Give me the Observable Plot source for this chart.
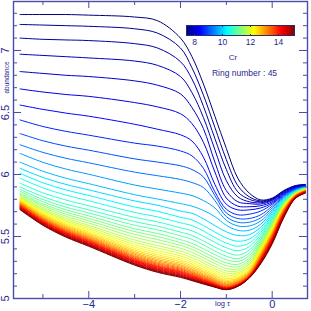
<!DOCTYPE html>
<html><head><meta charset="utf-8">
<script src="https://cdn.jsdelivr.net/npm/d3@7"></script>
<script src="https://cdn.jsdelivr.net/npm/@observablehq/plot@0.6"></script>
<style>
body{margin:0;background:#fff;}
#wrap{position:relative;width:311px;height:311px;font-family:"Liberation Sans",Arial,sans-serif;overflow:hidden;}
.note{position:absolute;color:#28288c;white-space:nowrap;line-height:1;transform:translate(-50%,-50%);}
#cbar{position:absolute;left:186px;top:25px;line-height:0;}
#cbar .tick line{stroke-dasharray:2 7;}
#cbox{position:absolute;left:186px;top:25px;width:109px;height:11px;box-sizing:border-box;border:1px solid #2a2a70;}
</style></head><body><div id="wrap"></div>
<script>
// optical depth grid (log tau)
const tau = [-5.5, -5, -4.5, -4, -3, -2.5, -2, -1.75, -1.5, -1.25, -1, -0.75, -0.5, -0.25, 0, 0.25, 0.5, 0.72];
// colour value (Cr) of each ring
const ringCr = [7.40, 7.56, 7.71, 7.87, 8.02, 8.18, 8.41, 8.65, 8.96, 9.27, 9.58, 9.82, 10.05, 10.29, 10.52, 10.68, 10.83, 10.99, 11.14, 11.30, 11.46, 11.61, 11.77, 11.92, 12.08, 12.24, 12.39, 12.55, 12.70, 12.86, 13.02, 13.17, 13.33, 13.48, 13.64, 13.80, 13.95, 14.11, 14.26, 14.42, 14.58, 14.73, 14.89, 15.04, 15.20];
// abundance of each ring at the tau grid
const abundance = [
[7.29,7.29,7.29,7.285,7.27,7.24,7.10,6.95,6.73,6.47,6.21,5.97,5.85,5.795,5.81,5.87,5.91,5.92],
[7.21,7.205,7.20,7.195,7.175,7.14,7.02,6.86,6.64,6.38,6.12,5.91,5.82,5.787,5.805,5.866,5.907,5.918],
[7.10,7.09,7.085,7.08,7.055,7.02,6.91,6.77,6.55,6.29,6.04,5.86,5.80,5.78,5.80,5.862,5.904,5.916],
[6.97,6.96,6.95,6.94,6.915,6.88,6.79,6.66,6.46,6.20,5.95,5.82,5.78,5.772,5.795,5.857,5.90,5.914],
[6.83,6.815,6.80,6.79,6.755,6.72,6.65,6.54,6.37,6.10,5.87,5.78,5.765,5.762,5.79,5.852,5.897,5.912],
[6.69,6.665,6.645,6.63,6.58,6.545,6.49,6.41,6.26,6.02,5.81,5.745,5.74,5.748,5.78,5.846,5.893,5.91],
[6.56,6.525,6.495,6.47,6.405,6.365,6.32,6.27,6.14,5.92,5.76,5.715,5.715,5.73,5.77,5.84,5.889,5.908],
[6.44,6.387,6.348,6.317,6.253,6.229,6.19,6.15,6.05,5.86,5.72,5.675,5.68,5.705,5.76,5.834,5.885,5.906],
[6.33,6.272,6.229,6.196,6.126,6.10,6.07,6.04,5.98,5.83,5.69,5.645,5.645,5.675,5.745,5.828,5.881,5.904],
[6.24,6.178,6.131,6.094,6.019,5.99,5.96,5.935,5.895,5.79,5.66,5.615,5.615,5.65,5.73,5.821,5.877,5.902],
[6.17,6.098,6.044,6.002,5.915,5.882,5.85,5.83,5.79,5.73,5.63,5.585,5.585,5.625,5.715,5.814,5.873,5.90],
[6.10,6.026,5.97,5.926,5.837,5.802,5.765,5.745,5.71,5.66,5.59,5.55,5.55,5.60,5.70,5.806,5.869,5.898],
[6.05,5.976,5.920,5.876,5.787,5.752,5.705,5.687,5.643,5.588,5.538,5.508,5.515,5.575,5.685,5.798,5.864,5.896],
[6.01,5.933,5.876,5.831,5.738,5.703,5.655,5.634,5.589,5.536,5.488,5.462,5.479,5.553,5.672,5.793,5.862,5.895],
[5.97,5.892,5.834,5.788,5.694,5.658,5.61,5.588,5.544,5.492,5.447,5.421,5.447,5.533,5.66,5.789,5.86,5.893],
[5.93,5.852,5.794,5.748,5.654,5.618,5.57,5.546,5.502,5.453,5.409,5.385,5.418,5.515,5.649,5.784,5.858,5.892],
[5.90,5.821,5.761,5.715,5.62,5.583,5.535,5.509,5.464,5.415,5.372,5.35,5.39,5.497,5.638,5.78,5.857,5.89],
[5.88,5.798,5.737,5.69,5.591,5.554,5.505,5.477,5.432,5.383,5.341,5.321,5.366,5.482,5.627,5.775,5.855,5.889],
[5.865,5.78,5.716,5.666,5.563,5.524,5.475,5.445,5.401,5.354,5.313,5.298,5.346,5.467,5.617,5.77,5.853,5.887],
[5.85,5.762,5.697,5.646,5.54,5.50,5.45,5.419,5.374,5.327,5.287,5.275,5.326,5.454,5.608,5.766,5.851,5.886],
[5.84,5.749,5.68,5.627,5.517,5.475,5.428,5.396,5.351,5.304,5.265,5.256,5.31,5.442,5.599,5.761,5.849,5.885],
[5.83,5.735,5.664,5.609,5.494,5.451,5.405,5.372,5.328,5.282,5.243,5.238,5.294,5.43,5.59,5.756,5.847,5.883],
[5.82,5.722,5.648,5.59,5.472,5.426,5.382,5.349,5.305,5.26,5.222,5.222,5.279,5.419,5.582,5.752,5.846,5.882],
[5.813,5.711,5.635,5.576,5.453,5.407,5.363,5.329,5.286,5.242,5.204,5.208,5.267,5.409,5.574,5.747,5.844,5.88],
[5.806,5.701,5.623,5.562,5.435,5.387,5.344,5.309,5.267,5.225,5.188,5.196,5.255,5.399,5.566,5.743,5.842,5.879],
[5.80,5.692,5.612,5.549,5.419,5.37,5.327,5.293,5.251,5.21,5.174,5.185,5.245,5.391,5.559,5.738,5.84,5.877],
[5.794,5.684,5.601,5.537,5.404,5.353,5.311,5.277,5.236,5.196,5.161,5.174,5.235,5.382,5.551,5.733,5.838,5.876],
[5.788,5.676,5.591,5.526,5.39,5.339,5.297,5.263,5.223,5.184,5.148,5.164,5.226,5.374,5.544,5.729,5.836,5.874],
[5.783,5.669,5.583,5.516,5.378,5.325,5.284,5.25,5.211,5.172,5.137,5.156,5.218,5.366,5.537,5.724,5.835,5.873],
[5.778,5.662,5.575,5.507,5.367,5.313,5.272,5.238,5.20,5.161,5.127,5.148,5.211,5.359,5.53,5.719,5.833,5.872],
[5.773,5.655,5.567,5.499,5.357,5.303,5.262,5.228,5.19,5.153,5.119,5.14,5.205,5.352,5.523,5.715,5.831,5.87],
[5.768,5.649,5.56,5.491,5.347,5.293,5.252,5.218,5.181,5.145,5.112,5.135,5.199,5.345,5.517,5.71,5.829,5.869],
[5.764,5.644,5.554,5.484,5.339,5.284,5.244,5.21,5.174,5.138,5.106,5.129,5.194,5.339,5.51,5.706,5.827,5.867],
[5.76,5.639,5.548,5.478,5.332,5.276,5.236,5.203,5.167,5.131,5.10,5.124,5.189,5.333,5.504,5.701,5.825,5.866],
[5.756,5.634,5.543,5.472,5.324,5.268,5.228,5.195,5.16,5.125,5.095,5.119,5.185,5.327,5.498,5.696,5.823,5.864],
[5.752,5.629,5.537,5.466,5.318,5.261,5.221,5.189,5.154,5.12,5.091,5.116,5.182,5.322,5.492,5.692,5.822,5.863],
[5.748,5.625,5.533,5.461,5.312,5.256,5.215,5.183,5.149,5.116,5.087,5.113,5.179,5.316,5.486,5.687,5.82,5.862],
[5.744,5.62,5.528,5.456,5.306,5.25,5.209,5.178,5.145,5.112,5.084,5.11,5.176,5.312,5.48,5.682,5.818,5.86],
[5.74,5.616,5.523,5.45,5.301,5.244,5.203,5.171,5.139,5.108,5.082,5.108,5.174,5.307,5.474,5.678,5.816,5.859],
[5.736,5.611,5.518,5.445,5.295,5.238,5.197,5.166,5.135,5.104,5.079,5.105,5.171,5.302,5.468,5.673,5.814,5.857],
[5.732,5.607,5.513,5.44,5.289,5.232,5.191,5.161,5.131,5.101,5.077,5.103,5.17,5.297,5.463,5.668,5.812,5.856],
[5.728,5.602,5.508,5.435,5.283,5.226,5.185,5.156,5.127,5.097,5.075,5.102,5.168,5.293,5.457,5.664,5.811,5.854],
[5.724,5.598,5.504,5.431,5.279,5.221,5.18,5.152,5.123,5.095,5.073,5.10,5.167,5.288,5.451,5.659,5.809,5.853],
[5.72,5.594,5.50,5.426,5.274,5.216,5.175,5.148,5.12,5.093,5.072,5.099,5.166,5.284,5.446,5.655,5.807,5.851],
[5.716,5.59,5.495,5.421,5.269,5.211,5.17,5.144,5.117,5.091,5.071,5.098,5.165,5.28,5.44,5.65,5.805,5.85]
];
const xLabelTicks = [-4, -2, 0];
const xMinorTicks = [-5, -3, -1];
const yLabelTicks = [5, 5.5, 6, 6.5, 7];
const yMinorTicks = [5.1,5.2,5.3,5.4,5.6,5.7,5.8,5.9,6.1,6.2,6.3,6.4,6.6,6.7,6.8,6.9,7.1,7.2,7.3];
const colorTicks = [8, 10, 12, 14];
const crDomain = [7.4, 15.2];
const xDomain = [-5.642, 0.77];
const yDomain = [5, 7.395];
const xTitle = "log τ", yTitle = "abundance", cTitle = "Cr", ringNumber = 45;

const jetStops = ["#00007f","#0000ff","#007fff","#00ffff","#7fff7f","#ffff00","#ff7f00","#ff0000","#7f0000"];
const jet = d3.piecewise(d3.interpolateRgb, jetStops);

const W = 311, H = 311, mL = 13, mR = 4, mT = 1, mB = 13;
const fw = W - mL - mR, fh = H - mT - mB;
const axisColor = "#4b4ba8", textColor = "#28288c";
const font = '"Liberation Sans", Arial, sans-serif';

const table = abundance.flatMap((row, i) => row.map((v, j) => ({ring: i + 1, cr: ringCr[i], tau: tau[j], abundance: v})));

const chart = Plot.plot({
  width: W, height: H, marginLeft: mL, marginRight: mR, marginTop: mT, marginBottom: mB,
  style: {fontFamily: font, background: "white", color: textColor},
  x: {domain: xDomain, axis: null},
  y: {domain: yDomain, axis: null},
  color: {type: "linear", domain: crDomain, interpolate: jet},
  marks: [
    Plot.line(table, {x: "tau", y: "abundance", z: "ring", stroke: "cr", strokeWidth: 1, curve: "catmull-rom"}),
    Plot.tickY(yMinorTicks, {y: d => d, stroke: axisColor, insetRight: fw - 4}),
    Plot.tickY(yMinorTicks, {y: d => d, stroke: axisColor, insetLeft: fw - 4}),
    Plot.tickY(yLabelTicks, {y: d => d, stroke: axisColor, insetRight: fw - 8}),
    Plot.tickY(yLabelTicks, {y: d => d, stroke: axisColor, insetLeft: fw - 8}),
    Plot.tickX(xMinorTicks, {x: d => d, stroke: axisColor, insetTop: fh - 4}),
    Plot.tickX(xMinorTicks, {x: d => d, stroke: axisColor, insetBottom: fh - 4}),
    Plot.tickX(xLabelTicks, {x: d => d, stroke: axisColor, insetTop: fh - 7}),
    Plot.tickX(xLabelTicks, {x: d => d, stroke: axisColor, insetBottom: fh - 7}),
    Plot.frame({stroke: axisColor, strokeWidth: 1.4}),
    Plot.text(yLabelTicks, {y: d => d, text: d => String(d), frameAnchor: "left", textAnchor: "middle", dx: -8, rotate: -90, fontSize: 11, fill: textColor}),
    Plot.text([yTitle], {text: d => d, frameAnchor: "left", textAnchor: "middle", dx: -7, dy: -72.5, rotate: -90, fontSize: 6.5, fill: textColor}),
    Plot.axisX(xLabelTicks, {tickSize: 0, tickPadding: 2, fontSize: 11, label: null, fill: textColor}),
    Plot.text([xTitle], {text: d => d, frameAnchor: "bottom", dx: 62, dy: 7, fontSize: 7.5, fill: textColor})
  ]
});

const wrap = document.getElementById("wrap");
wrap.appendChild(chart);

const legend = Plot.legend({
  color: {type: "linear", domain: crDomain, interpolate: jet},
  width: 109, height: 27, marginLeft: 0, marginRight: 0, marginTop: 0, marginBottom: 16,
  ticks: colorTicks, tickSize: 0, label: null, className: "cbar",
  style: {fontSize: "8.5px", fontFamily: font, color: textColor, background: "transparent", overflow: "visible"}
});
const lg = document.createElement("div");
lg.id = "cbar";
lg.appendChild(legend);
wrap.appendChild(lg);
const box = document.createElement("div");
box.id = "cbox";
wrap.appendChild(box);

function note(text, x, y, size) {
  const d = document.createElement("div");
  d.className = "note";
  d.textContent = text;
  d.style.left = x + "px";
  d.style.top = y + "px";
  d.style.fontSize = size + "px";
  wrap.appendChild(d);
}
note(cTitle, 233, 57.5, 8);
note("Ring number : " + ringNumber, 244.5, 72.5, 8.5);
</script></body></html>
